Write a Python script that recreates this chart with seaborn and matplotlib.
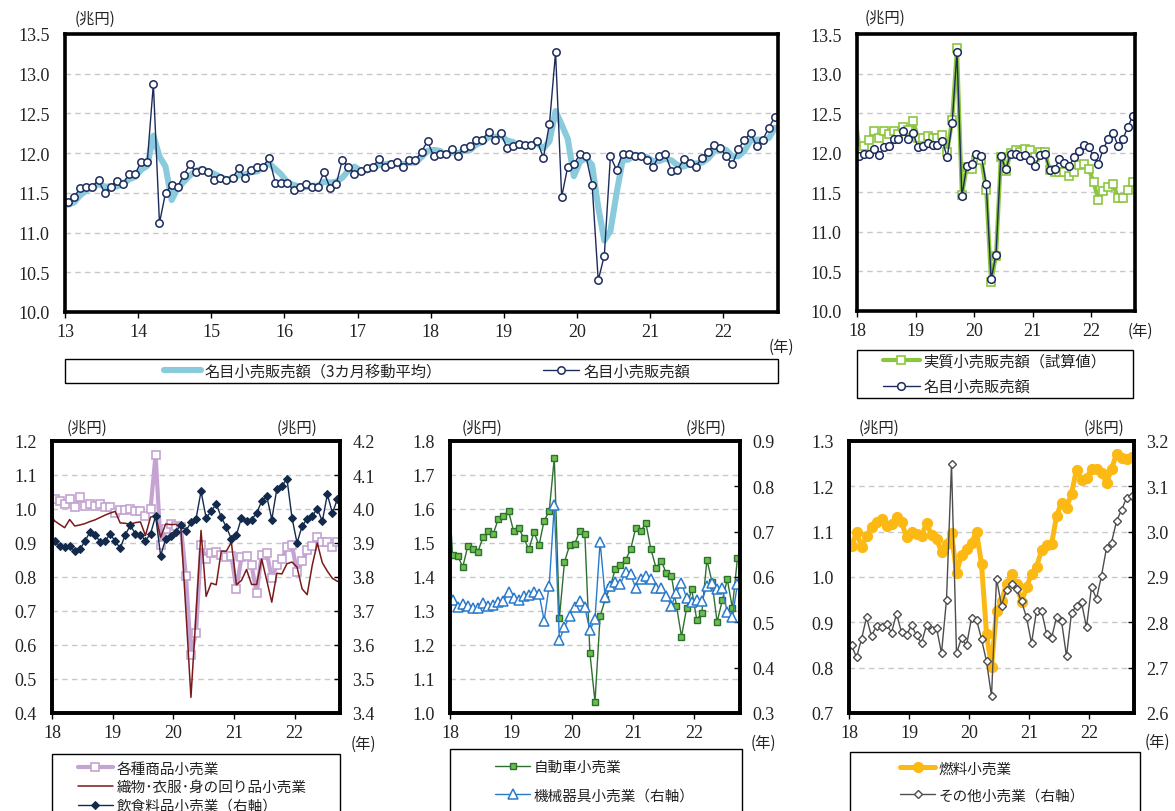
import numpy as np
import pandas as pd
import matplotlib
matplotlib.use("Agg")
import matplotlib.pyplot as plt
from matplotlib.patches import Rectangle
from matplotlib.ticker import FormatStrFormatter
import seaborn as sns

# ---------------------------------------------------------------- data
# Monthly retail sales (trillion yen), Jan 2013 - Sep 2022
nominal_sales = [
    11.39, 11.45, 11.56, 11.58, 11.58, 11.66, 11.50, 11.58, 11.65, 11.61, 11.74, 11.74,
    11.89, 11.89, 12.87, 11.12, 11.50, 11.60, 11.58, 11.73, 11.86, 11.76, 11.79, 11.76,
    11.66, 11.69, 11.66, 11.69, 11.81, 11.69, 11.79, 11.83, 11.83, 11.94, 11.63, 11.63,
    11.63, 11.53, 11.58, 11.61, 11.58, 11.58, 11.76, 11.56, 11.61, 11.91, 11.83, 11.74,
    11.78, 11.81, 11.83, 11.92, 11.83, 11.86, 11.89, 11.83, 11.91, 11.91, 12.02, 12.15,
    11.96, 11.99, 11.99, 12.05, 11.97, 12.07, 12.09, 12.17, 12.17, 12.27, 12.17, 12.25,
    12.07, 12.09, 12.12, 12.10, 12.10, 12.15, 11.94, 12.37, 13.27, 11.45, 11.83, 11.86,
    11.99, 11.96, 11.60, 10.40, 10.71, 11.96, 11.79, 11.99, 11.99, 11.96, 11.97, 11.91,
    11.83, 11.97, 11.99, 11.78, 11.79, 11.92, 11.87, 11.83, 11.94, 12.02, 12.10, 12.07,
    11.96, 11.86, 12.05, 12.17, 12.25, 12.09, 12.17, 12.32, 12.46,
]
nominal_sales_3m = [
    11.35, 11.38, 11.47, 11.53, 11.57, 11.61, 11.58, 11.58, 11.58, 11.61, 11.67, 11.70,
    11.79, 11.84, 12.22, 11.96, 11.83, 11.41, 11.56, 11.64, 11.72, 11.78, 11.80, 11.77,
    11.74, 11.70, 11.67, 11.68, 11.72, 11.73, 11.76, 11.77, 11.82, 11.87, 11.80, 11.73,
    11.63, 11.60, 11.58, 11.57, 11.59, 11.59, 11.64, 11.63, 11.64, 11.69, 11.78, 11.83,
    11.78, 11.78, 11.81, 11.85, 11.86, 11.87, 11.86, 11.86, 11.88, 11.88, 11.95, 12.03,
    12.04, 12.03, 11.98, 12.01, 12.00, 12.03, 12.04, 12.11, 12.14, 12.20, 12.20, 12.23,
    12.16, 12.14, 12.09, 12.10, 12.11, 12.12, 12.06, 12.15, 12.53, 12.36, 12.18, 11.71,
    11.89, 11.94, 11.85, 11.32, 10.90, 11.02, 11.49, 11.91, 11.92, 11.98, 11.97, 11.95,
    11.90, 11.90, 11.93, 11.91, 11.85, 11.83, 11.86, 11.87, 11.88, 11.93, 12.02, 12.06,
    12.04, 11.96, 11.96, 12.03, 12.16, 12.17, 12.17, 12.19, 12.32,
]

# Jan 2018 - Sep 2022 (the *_prev values are Dec 2017)
real_sales_prev = 12.55
real_sales = [
    12.03, 12.08, 12.16, 12.28, 12.19, 12.27, 12.24, 12.27, 12.24, 12.33, 12.29, 12.40,
    12.19, 12.18, 12.21, 12.19, 12.19, 12.22, 12.01, 12.41, 13.32, 11.46, 11.82, 11.80,
    11.91, 11.91, 11.53, 10.37, 10.70, 11.95, 11.77, 12.00, 12.03, 12.01, 12.05, 12.03,
    11.95, 12.01, 12.01, 11.78, 11.76, 11.76, 11.76, 11.70, 11.76, 11.84, 11.86, 11.80,
    11.63, 11.40, 11.51, 11.57, 11.61, 11.43, 11.43, 11.53, 11.63,
]
general_merch = [
    1.028, 1.023, 1.015, 1.028, 1.007, 1.035, 1.008, 1.015, 1.008, 1.015, 1.005, 1.007,
    0.988, 0.998, 0.998, 1.000, 0.993, 0.993, 0.979, 1.000, 1.160, 0.893, 0.940, 0.956,
    0.951, 0.947, 0.804, 0.571, 0.636, 0.893, 0.853, 0.871, 0.873, 0.865, 0.858, 0.863,
    0.765, 0.858, 0.863, 0.834, 0.752, 0.866, 0.871, 0.796, 0.836, 0.853, 0.888, 0.893,
    0.814, 0.846, 0.878, 0.891, 0.917, 0.904, 0.904, 0.888, 0.902,
]
apparel_prev = 0.99
apparel = [
    0.965, 0.955, 0.945, 0.969, 0.950, 0.953, 0.957, 0.963, 0.968, 0.975, 0.982, 0.988,
    0.993, 0.959, 0.958, 0.955, 0.960, 0.962, 0.922, 0.976, 0.981, 0.917, 0.956, 0.954,
    0.955, 0.945, 0.700, 0.446, 0.690, 0.937, 0.743, 0.782, 0.777, 0.876, 0.876, 0.902,
    0.777, 0.790, 0.822, 0.778, 0.778, 0.853, 0.790, 0.726, 0.811, 0.809, 0.839, 0.844,
    0.829, 0.765, 0.748, 0.834, 0.900, 0.842, 0.817, 0.796, 0.787,
]
food = [
    3.907, 3.891, 3.888, 3.891, 3.876, 3.881, 3.905, 3.932, 3.925, 3.904, 3.905, 3.927,
    3.905, 3.885, 3.924, 3.952, 3.927, 3.924, 3.907, 3.927, 3.979, 3.863, 3.912, 3.920,
    3.932, 3.954, 3.935, 3.961, 3.971, 4.052, 3.974, 3.993, 4.015, 3.976, 3.947, 3.912,
    3.924, 3.974, 3.964, 3.969, 3.988, 4.023, 4.038, 3.969, 4.059, 4.067, 4.089, 3.974,
    3.900, 3.950, 3.971, 3.979, 4.001, 3.964, 4.043, 3.988, 4.030,
]
motor_prev = 1.72
motor = [
    1.466, 1.463, 1.429, 1.491, 1.481, 1.475, 1.517, 1.535, 1.527, 1.571, 1.579, 1.594,
    1.535, 1.544, 1.514, 1.481, 1.532, 1.493, 1.566, 1.593, 1.750, 1.279, 1.444, 1.493,
    1.497, 1.535, 1.527, 1.176, 1.033, 1.284, 1.334, 1.372, 1.424, 1.436, 1.450, 1.481,
    1.544, 1.535, 1.558, 1.481, 1.427, 1.448, 1.412, 1.404, 1.316, 1.225, 1.308, 1.365,
    1.274, 1.294, 1.451, 1.385, 1.267, 1.331, 1.393, 1.309, 1.455,
]
machinery = [
    0.550, 0.533, 0.541, 0.535, 0.532, 0.532, 0.543, 0.536, 0.539, 0.544, 0.546, 0.567,
    0.554, 0.550, 0.558, 0.561, 0.567, 0.563, 0.504, 0.581, 0.758, 0.461, 0.489, 0.514,
    0.533, 0.548, 0.533, 0.482, 0.508, 0.678, 0.556, 0.581, 0.589, 0.585, 0.611, 0.606,
    0.576, 0.596, 0.603, 0.595, 0.576, 0.576, 0.559, 0.536, 0.565, 0.587, 0.554, 0.544,
    0.550, 0.547, 0.580, 0.587, 0.574, 0.576, 0.522, 0.511, 0.585,
]
fuel = [
    1.068, 1.099, 1.066, 1.090, 1.110, 1.121, 1.129, 1.112, 1.118, 1.132, 1.121, 1.088,
    1.099, 1.094, 1.090, 1.119, 1.093, 1.084, 1.056, 1.073, 1.097, 1.009, 1.049, 1.062,
    1.076, 1.099, 1.029, 0.875, 0.801, 0.926, 0.946, 0.985, 1.006, 0.985, 0.944, 0.978,
    1.006, 1.022, 1.059, 1.070, 1.072, 1.134, 1.164, 1.153, 1.184, 1.237, 1.215, 1.219,
    1.238, 1.238, 1.230, 1.208, 1.238, 1.272, 1.263, 1.261, 1.265,
]
other = [
    2.749, 2.723, 2.763, 2.811, 2.769, 2.793, 2.789, 2.797, 2.777, 2.819, 2.778, 2.771,
    2.794, 2.771, 2.754, 2.794, 2.784, 2.788, 2.732, 2.850, 3.149, 2.732, 2.765, 2.749,
    2.809, 2.806, 2.763, 2.714, 2.637, 2.896, 2.837, 2.872, 2.885, 2.874, 2.846, 2.811,
    2.754, 2.825, 2.826, 2.775, 2.765, 2.811, 2.803, 2.725, 2.821, 2.837, 2.844, 2.789,
    2.878, 2.852, 2.903, 2.964, 2.976, 3.023, 3.048, 3.074, 3.079,
]

years_long = ["13", "14", "15", "16", "17", "18", "19", "20", "21", "22"]
years_short = ["18", "19", "20", "21", "22"]

lbl_ma = "名目小売販売額（3カ月移動平均）"
lbl_nominal = "名目小売販売額"
lbl_real = "実質小売販売額（試算値）"
lbl_general = "各種商品小売業"
lbl_apparel = "織物･衣服･身の回り品小売業"
lbl_food = "飲食料品小売業（右軸）"
lbl_motor = "自動車小売業"
lbl_machinery = "機械器具小売業（右軸）"
lbl_fuel = "燃料小売業"
lbl_other = "その他小売業（右軸）"
unit = "(兆円)"
year_unit = "(年)"

# ---------------------------------------------------------------- style
sns.set_theme(style="white")
plt.rcParams["font.family"] = ["Noto Sans CJK JP", "DejaVu Sans"]
NUM_FONT = "Liberation Serif"
TXT = "#222222"

W, H = 1175, 812
fig = plt.figure(figsize=(W / 100, H / 100), dpi=100)
fig.patch.set_facecolor("white")


def box(l, t, r, b):
    return [l / W, 1 - b / H, (r - l) / W, (b - t) / H]


def fx(x):
    return x / W


def fy(y):
    return 1 - y / H


def serif_labels(labels):
    for t in labels:
        t.set_fontfamily(NUM_FONT)
        t.set_fontsize(13)
        t.set_color(TXT)


def style_axes(ax, n, year_labels, ylo, yhi, step):
    ax.set_xlim(-0.5, n - 0.5)
    ax.set_xticks([-0.5 + 12 * k for k in range(len(year_labels))])
    ax.set_xticklabels(year_labels)
    ax.set_ylim(ylo, yhi)
    yt = np.round(np.arange(ylo, yhi + step / 2, step), 3)
    ax.set_yticks(yt)
    ax.set_yticklabels([f"{v:.1f}" for v in yt])
    ax.tick_params(axis="x", direction="out", length=4, width=1, pad=4, bottom=True,
                   color="black")
    ax.tick_params(axis="y", left=False, length=0, pad=11)
    serif_labels(ax.get_xticklabels() + ax.get_yticklabels())
    ax.yaxis.grid(True, color="#c8c8c8", linestyle=(0, (4, 3)), linewidth=1.0)
    ax.xaxis.grid(False)
    ax.set_axisbelow(True)
    for s in ax.spines.values():
        s.set_visible(True)
        s.set_color("black")
        s.set_linewidth(2.6)
    ax.set_xlabel("")
    ax.set_ylabel("")


def style_right(ax2, ylo, yhi, step):
    ax2.set_ylim(ylo, yhi)
    yt = np.round(np.arange(ylo, yhi + step / 2, step), 3)
    ax2.set_yticks(yt)
    ax2.set_yticklabels([f"{v:.1f}" for v in yt])
    ax2.tick_params(axis="y", right=True, direction="in", length=4, width=1, pad=9,
                    color="black")
    serif_labels(ax2.get_yticklabels())
    ax2.grid(False)
    for s in ax2.spines.values():
        s.set_visible(True)
        s.set_color("black")
        s.set_linewidth(2.6)
    ax2.set_xlabel("")
    ax2.set_ylabel("")


def line(ax, x, y, **kw):
    df = pd.DataFrame({"month": x, "value": y})
    sns.lineplot(data=df, x="month", y="value", ax=ax, estimator=None, errorbar=None,
                 sort=False, legend=False, **kw)


def legend_frame(l, t, r, b):
    fig.add_artist(Rectangle((fx(l), fy(b)), (r - l) / W, (b - t) / H, transform=fig.transFigure,
                             fill=False, edgecolor="black", linewidth=1.0))


def legend(handles, labels, x, y, spacing, fs=11, ncol=1, colspace=2.0):
    leg = fig.legend(handles, labels, loc="center left", bbox_to_anchor=(fx(x), fy(y)),
                     frameon=False, fontsize=fs, handlelength=2.4, handletextpad=0.25,
                     labelspacing=spacing, borderpad=0, borderaxespad=0, ncol=ncol,
                     columnspacing=colspace)
    for t in leg.get_texts():
        t.set_color(TXT)


def text(x, y, s, fs=11, ha="center"):
    fig.text(fx(x), fy(y), s, ha=ha, va="center", fontsize=fs, color=TXT)


NAVY = "#1b2b5c"
n_long = len(nominal_sales)
n_short = len(real_sales)
m_long = np.arange(n_long)
m_short = np.arange(n_short)

# ---------------------------------------------------------------- top left
ax = fig.add_axes(box(65, 35, 778, 313))
line(ax, m_long, nominal_sales_3m, color="#89cbdd", linewidth=4.4, label=lbl_ma,
     solid_joinstyle="round")
line(ax, m_long, nominal_sales, color=NAVY, linewidth=1.0, marker="o", markersize=5.3,
     markerfacecolor="white", markeredgecolor=NAVY, markeredgewidth=1.1, label=lbl_nominal)
style_axes(ax, n_long, years_long, 10.0, 13.5, 0.5)
h, l = ax.get_legend_handles_labels()
legend_frame(65, 360, 778, 384)
legend(h, l, 164, 372, 0.3, fs=11, ncol=2, colspace=6.6)
text(95, 19, unit)
text(781, 347, year_unit)

# ---------------------------------------------------------------- top right
ax = fig.add_axes(box(857, 35, 1135, 312))
# segment coming in from December 2017
line(ax, [-1, 0], [real_sales_prev, real_sales[0]], color="#8cc63e", linewidth=3.0)
line(ax, m_short, real_sales, color="#8cc63e", linewidth=3.0, marker="s",
     markersize=5.5, markerfacecolor="white", markeredgecolor="#8cc63e", markeredgewidth=1.2,
     label=lbl_real)
line(ax, m_short, nominal_sales[-n_short:], color=NAVY, linewidth=1.0, marker="o",
     markersize=5.5, markerfacecolor="white", markeredgecolor=NAVY, markeredgewidth=1.1,
     label=lbl_nominal)
style_axes(ax, n_short, years_short, 10.0, 13.5, 0.5)
h, l = ax.get_legend_handles_labels()
legend_frame(857, 351, 1133, 399)
legend(h, l, 883, 375, 0.55)
text(885, 18, unit)
text(1140, 331, year_unit)

# ---------------------------------------------------------------- bottom left
ax = fig.add_axes(box(52, 442, 340, 714))
line(ax, m_short, general_merch, color="#c4a3d2", linewidth=3.0, marker="s", markersize=5.5,
     markerfacecolor="white", markeredgecolor="#c4a3d2", markeredgewidth=1.2, label=lbl_general)
line(ax, [-1, 0], [apparel_prev, apparel[0]], color="#7a1a1a", linewidth=1.1)
line(ax, m_short, apparel, color="#7a1a1a", linewidth=1.1, label=lbl_apparel)
style_axes(ax, n_short, years_short, 0.4, 1.2, 0.1)
ax2 = ax.twinx()
line(ax2, m_short, food, color="#132a4c", linewidth=1.0, marker="D", markersize=4.3,
     markerfacecolor="#132a4c", markeredgecolor="#132a4c", label=lbl_food)
style_right(ax2, 3.4, 4.2, 0.1)
ax2.set_xlim(-0.5, n_short - 0.5)
h1, l1 = ax.get_legend_handles_labels()
h2, l2 = ax2.get_legend_handles_labels()
legend_frame(52, 755, 340, 840)
legend(h1 + h2, l1 + l2, 78, 788, 0.32, fs=10.5)
text(87, 428, unit)
text(297, 428, unit)
text(363, 744, year_unit)

# ---------------------------------------------------------------- bottom middle
ax = fig.add_axes(box(450, 442, 740, 714))
line(ax, [-1, 0], [motor_prev, motor[0]], color="#2e7031", linewidth=1.0)
line(ax, m_short, motor, color="#2e7031", linewidth=1.0, marker="s", markersize=5,
     markerfacecolor="#6cbf4a", markeredgecolor="#2e7031", markeredgewidth=1.0, label=lbl_motor)
style_axes(ax, n_short, years_short, 1.0, 1.8, 0.1)
ax2 = ax.twinx()
line(ax2, m_short, machinery, color="#2a7acb", linewidth=1.0, marker="^", markersize=7,
     markerfacecolor="white", markeredgecolor="#2a7acb", markeredgewidth=1.1, label=lbl_machinery)
style_right(ax2, 0.3, 0.9, 0.1)
ax2.set_xlim(-0.5, n_short - 0.5)
h1, l1 = ax.get_legend_handles_labels()
h2, l2 = ax2.get_legend_handles_labels()
legend_frame(450, 750, 742, 840)
legend(h1 + h2, l1 + l2, 495, 782, 1.0, fs=10.5)
text(482, 428, unit)
text(706, 428, unit)
text(763, 743, year_unit)

# ---------------------------------------------------------------- bottom right
ax = fig.add_axes(box(849, 442, 1134, 714))
line(ax, m_short, fuel, color="#fdb913", linewidth=3.6, marker="o", markersize=7.3,
     markerfacecolor="#fdb913", markeredgecolor="#fdb913", label=lbl_fuel)
style_axes(ax, n_short, years_short, 0.7, 1.3, 0.1)
ax2 = ax.twinx()
line(ax2, m_short, other, color="#4d4d4d", linewidth=1.0, marker="D", markersize=4.4,
     markerfacecolor="white", markeredgecolor="#4d4d4d", markeredgewidth=1.0, label=lbl_other)
style_right(ax2, 2.6, 3.2, 0.1)
ax2.set_xlim(-0.5, n_short - 0.5)
h1, l1 = ax.get_legend_handles_labels()
h2, l2 = ax2.get_legend_handles_labels()
legend_frame(850, 753, 1140, 840)
legend(h1 + h2, l1 + l2, 900, 783, 0.9, fs=10.5)
text(879, 428, unit)
text(1104, 428, unit)
text(1157, 742, year_unit)

fig.savefig("out.png", dpi=100, facecolor="white")
